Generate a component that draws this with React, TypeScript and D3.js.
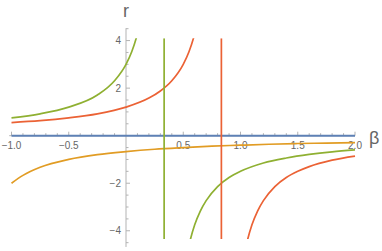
import { useEffect, useRef } from 'react';
import * as d3 from 'd3';

// values
const blueBeta = [-1, 2];
const blueR = [0, 0];

const orangeBeta = [-1, -0.9, -0.75, -0.5, -0.25, 0, 0.25, 0.5, 0.75, 1, 1.25, 1.5, 1.75, 2];
const orangeR = [-2, -1.67, -1.33, -1, -0.8, -0.67, -0.57, -0.5, -0.44, -0.4, -0.36, -0.33, -0.31, -0.29];

const greenLeftBeta = [-1, -0.75, -0.5, -0.25, -0.1, 0, 0.05, 0.1, 0.15];
const greenLeftR = [0.75, 0.92, 1.2, 1.71, 2.31, 3.0, 3.53, 4.29, 5.45];
const greenRightBeta = [0.5, 0.55, 0.6, 0.65, 0.7, 0.8, 0.9, 1, 1.2, 1.4, 1.6, 1.8, 2];
const greenRightR = [-6, -4.62, -3.75, -3.16, -2.73, -2.14, -1.76, -1.5, -1.15, -0.94, -0.79, -0.68, -0.6];

const redLeftBeta = [-1, -0.75, -0.5, -0.25, 0, 0.2, 0.3, 0.4, 0.5, 0.55, 0.6, 0.65];
const redLeftR = [0.55, 0.63, 0.75, 0.92, 1.2, 1.58, 1.88, 2.31, 3.0, 3.53, 4.29, 5.45];
const redRightBeta = [1.0, 1.05, 1.1, 1.15, 1.2, 1.3, 1.4, 1.5, 1.6, 1.8, 2];
const redRightR = [-6, -4.62, -3.75, -3.16, -2.73, -2.14, -1.76, -1.5, -1.3, -1.03, -0.86];

// vertical jumps across the poles
const poleBeta = [0.333, 0.833];
const poleColors = ['#8FB032', '#EB6235'];

const xTicks = [-1, -0.5, 0.5, 1, 1.5, 2];
const xTickLabels = ['−1.0', '−0.5', '0.5', '1.0', '1.5', '2.0'];
const yTicks = [4, 2, -2, -4];
const yTickLabels = ['4', '2', '−2', '−4'];

export default function App() {
  const svgRef = useRef<SVGSVGElement>(null);

  useEffect(() => {
    const W = 382, H = 251;
    const svg = d3.select(svgRef.current);
    svg.selectAll('*').remove();
    svg.attr('width', W).attr('height', H);

    const x = d3.scaleLinear().domain([-1, 2]).range([11.5, 355]);
    const y = d3.scaleLinear().domain([-4.35, 4.1]).range([239.1, 38.2]);

    const axisColor = '#b3b3b3';
    const textColor = '#666';
    const font = 'Liberation Sans, Arial, sans-serif';

    // minor + major ticks
    const g = svg.append('g');
    d3.range(-10, 21).forEach(i => {
      const v = i / 10;
      const major = i % 5 === 0;
      if (v === 0) return;
      g.append('line')
        .attr('x1', x(v)).attr('x2', x(v))
        .attr('y1', y(0)).attr('y2', y(0) - (major ? 4 : 2.5))
        .attr('stroke', axisColor).attr('stroke-width', 1);
    });
    d3.range(-9, 10).forEach(i => {
      const v = i / 2;
      const major = i % 4 === 0;
      if (v === 0) return;
      g.append('line')
        .attr('x1', x(0)).attr('x2', x(0) + (major ? 4 : 2.5))
        .attr('y1', y(v)).attr('y2', y(v))
        .attr('stroke', axisColor).attr('stroke-width', 1);
    });

    // axes
    g.append('line').attr('x1', x(-1.02)).attr('x2', x(2)).attr('y1', y(0)).attr('y2', y(0))
      .attr('stroke', axisColor);
    g.append('line').attr('x1', x(0)).attr('x2', x(0)).attr('y1', y(4.52)).attr('y2', y(-4.68))
      .attr('stroke', axisColor);

    // tick labels
    xTicks.forEach((v, i) => {
      g.append('text').attr('x', x(v)).attr('y', y(0) + 13)
        .attr('text-anchor', 'middle').attr('font-size', 10).attr('font-family', font)
        .attr('fill', textColor).text(xTickLabels[i]);
    });
    yTicks.forEach((v, i) => {
      g.append('text').attr('x', x(0) - 5).attr('y', y(v) + 3.5)
        .attr('text-anchor', 'end').attr('font-size', 10).attr('font-family', font)
        .attr('fill', textColor).text(yTickLabels[i]);
    });

    // axis labels
    svg.append('text').attr('x', x(0)).attr('y', 17).attr('text-anchor', 'middle')
      .attr('font-size', 18).attr('font-family', font).attr('fill', textColor).text('r');
    svg.append('text').attr('x', 369).attr('y', 143.5)
      .attr('font-size', 18).attr('font-family', font).attr('fill', textColor).text('β');

    // clip to plot range
    svg.append('defs').append('clipPath').attr('id', 'plot-clip')
      .append('rect').attr('x', 0).attr('width', W)
      .attr('y', y(4.1)).attr('height', y(-4.35) - y(4.1));
    const plot = svg.append('g').attr('clip-path', 'url(#plot-clip)');

    const line = d3.line<[number, number]>()
      .x(d => x(d[0])).y(d => y(d[1])).curve(d3.curveMonotoneX);

    const series: [number[], number[], string, number][] = [
      [blueBeta, blueR, '#5E81B5', 2],
      [orangeBeta, orangeR, '#E19C24', 1.7],
      [greenLeftBeta, greenLeftR, '#8FB032', 1.7],
      [greenRightBeta, greenRightR, '#8FB032', 1.7],
      [redLeftBeta, redLeftR, '#EB6235', 1.7],
      [redRightBeta, redRightR, '#EB6235', 1.7],
    ];
    series.forEach(([bs, rs, c, w]) => {
      const pts = bs.map((b, i) => [b, rs[i]] as [number, number]);
      plot.append('path').attr('d', line(pts)).attr('fill', 'none')
        .attr('stroke', c).attr('stroke-width', w);
    });

    poleBeta.forEach((b, i) => {
      plot.append('line').attr('x1', x(b)).attr('x2', x(b))
        .attr('y1', y(4.1)).attr('y2', y(-4.35))
        .attr('stroke', poleColors[i]).attr('stroke-width', 1.7);
    });
  }, []);

  return (
    <div style={{ position: 'absolute', left: 0, top: 0 }}>
      <svg ref={svgRef} style={{ display: 'block' }} />
    </div>
  );
}
